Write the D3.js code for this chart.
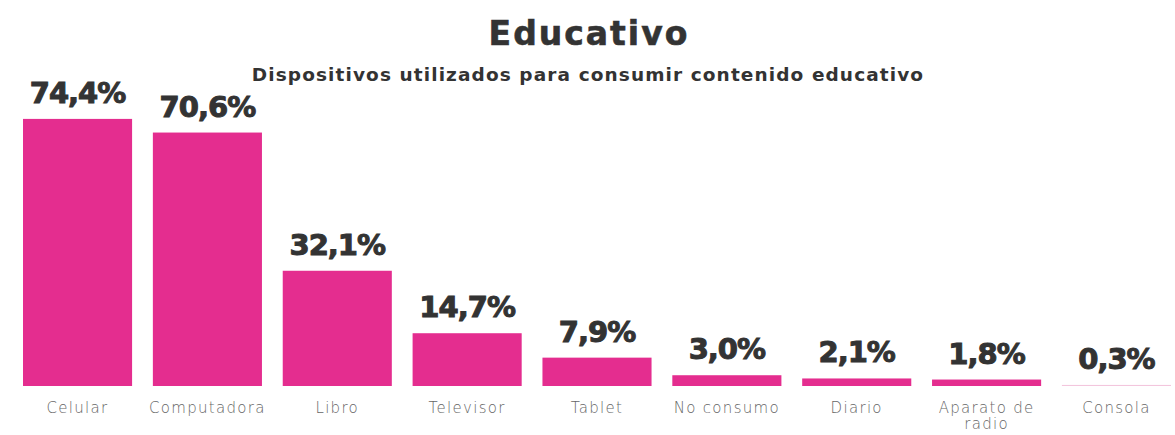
<!DOCTYPE html>
<html><head><meta charset="utf-8">
<script src="https://cdn.jsdelivr.net/npm/d3@7"></script>
<style>body{margin:0;background:#fff}</style>
</head><body>
<svg id="c" width="1175" height="435"></svg>
<script>
const categories = ["Celular","Computadora","Libro","Televisor","Tablet","No consumo","Diario","Aparato de radio","Consola"];
const values = [74.4,70.6,32.1,14.7,7.9,3.0,2.1,1.8,0.3];
const valueLabels = ["74,4%","70,6%","32,1%","14,7%","7,9%","3,0%","2,1%","1,8%","0,3%"];
const title = "Educativo";
const subtitle = "Dispositivos utilizados para consumir contenido educativo";

const svg = d3.select("#c");
const x = d3.scaleBand().domain(categories).range([23,1171]).paddingInner(0.16).paddingOuter(0);
const y = d3.scaleLinear().domain([0,100]).range([386,27]);

svg.append("text").attr("x",589).attr("y",45).attr("text-anchor","middle")
  .attr("font-family","DejaVu Sans").attr("font-weight",700).attr("font-size",33)
  .attr("letter-spacing",2).attr("fill","#333").attr("stroke","#333").attr("stroke-width",0.6)
  .text(title);
svg.append("text").attr("x",588).attr("y",81).attr("text-anchor","middle")
  .attr("font-family","DejaVu Sans").attr("font-weight",700).attr("font-size",18.5)
  .attr("letter-spacing",1.1).attr("fill","#333")
  .text(subtitle);

svg.selectAll("rect.bar").data(values).join("rect").attr("class","bar")
  .attr("x",(d,i)=>x(categories[i])).attr("width",x.bandwidth())
  .attr("y",d=>y(d)).attr("height",d=>Math.max(1,y(0)-y(d)))
  .attr("fill",(d,i)=> d<1 ? "#f3c6dd" : "#e42d8f");

svg.selectAll("text.val").data(values).join("text").attr("class","val")
  .attr("x",(d,i)=>x(categories[i])+x.bandwidth()/2).attr("y",d=>y(d)-16)
  .attr("text-anchor","middle").attr("font-family","DejaVu Sans").attr("font-weight",700)
  .attr("font-size",29).attr("letter-spacing",-1).attr("fill","#333")
  .attr("stroke","#333").attr("stroke-width",1)
  .text((d,i)=>valueLabels[i]);

const xAxis = d3.axisBottom(x).tickSize(0).tickPadding(0);
const g = svg.append("g").attr("transform","translate(0,400)").call(xAxis);
g.select(".domain").remove();
g.selectAll(".tick text").attr("font-family","DejaVu Sans").attr("font-weight",200)
  .attr("font-size",15).attr("letter-spacing",1.3).attr("fill","#666").attr("dy",0).attr("y",13)
  .each(function(d){
    const t = d3.select(this);
    if (d==="Aparato de radio"){
      t.text(null);
      t.append("tspan").attr("x",0).attr("y",13).text("Aparato de");
      t.append("tspan").attr("x",0).attr("y",29).text("radio");
    }
  });
</script>
</body></html>
